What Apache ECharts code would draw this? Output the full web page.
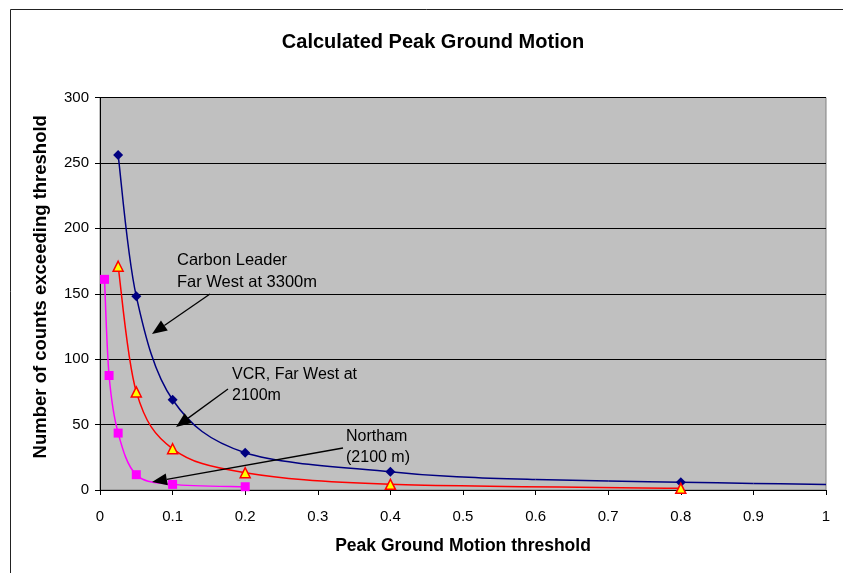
<!DOCTYPE html>
<html>
<head>
<meta charset="utf-8">
<script src="https://cdn.jsdelivr.net/npm/echarts@6/dist/echarts.min.js"></script>
<style>
html,body{margin:0;padding:0;background:#fff;}
#c{width:843px;height:573px;}
</style>
</head>
<body>
<div id="c"></div>
<script>
// Data
var carbonX = [0.025, 0.05, 0.1, 0.2, 0.4, 0.8];
var carbonY = [256, 148, 69, 28.5, 14, 6];
var carbonCurveX = [0.025, 0.05, 0.1, 0.2, 0.4, 0.5, 0.6, 0.7, 0.8, 0.9, 1.0];
var carbonCurveY = [256, 148, 69, 28.5, 14, 10, 8, 6.8, 6, 5, 4.2];
var vcrX = [0.025, 0.05, 0.1, 0.2, 0.4, 0.8];
var vcrY = [171, 75, 31.5, 13.2, 4.3, 1.3];
var northamX = [0.00625, 0.0125, 0.025, 0.05, 0.1, 0.2];
var northamY = [161, 87.5, 43.5, 11.7, 4.3, 2.5];
var yTicks = [0, 50, 100, 150, 200, 250, 300];
var xTicks = [0, 0.1, 0.2, 0.3, 0.4, 0.5, 0.6, 0.7, 0.8, 0.9, 1];

function pairs(xs, ys) { return xs.map(function (x, i) { return [x, ys[i]]; }); }

var FONT = '"Liberation Sans", Arial, sans-serif';
var chart = echarts.init(document.getElementById('c'), null, {renderer: 'canvas'});

// Smoothed curve (Catmull-Rom style bezier) drawn through points converted by the axes
function curveSeries(name, xs, ys, color) {
  return {
    type: 'custom', name: name, data: [0], z: 3, clip: true, silent: true,
    renderItem: function (params, api) {
      var p = xs.map(function (x, i) { return api.coord([x, ys[i]]); });
      var kids = [];
      for (var i = 0; i < p.length - 1; i++) {
        var p0 = p[Math.max(i - 1, 0)], p1 = p[i], p2 = p[i + 1], p3 = p[Math.min(i + 2, p.length - 1)];
        kids.push({
          type: 'bezierCurve',
          shape: {
            x1: p1[0], y1: p1[1], x2: p2[0], y2: p2[1],
            cpx1: p1[0] + (p2[0] - p0[0]) / 6, cpy1: p1[1] + (p2[1] - p0[1]) / 6,
            cpx2: p2[0] - (p3[0] - p1[0]) / 6, cpy2: p2[1] - (p3[1] - p1[1]) / 6
          },
          style: {stroke: color, lineWidth: 1.5, fill: null}
        });
      }
      return {type: 'group', children: kids};
    }
  };
}

function arrow(x1, y1, x2, y2) {
  var dx = x2 - x1, dy = y2 - y1, L = Math.sqrt(dx*dx + dy*dy);
  var ux = dx / L, uy = dy / L, hl = 15, hw = 6;
  var bx = x2 - ux*hl, by = y2 - uy*hl;
  return [
    {type: 'line', shape: {x1: x1, y1: y1, x2: bx, y2: by}, style: {stroke: '#000', lineWidth: 1.3}, z: 100},
    {type: 'polygon', shape: {points: [[x2, y2], [bx - uy*hw, by + ux*hw], [bx + uy*hw, by - ux*hw]]}, style: {fill: '#000'}, z: 100}
  ];
}
function label(x, y, t, size) {
  return {type: 'text', x: x, y: y, z: 100, style: {text: t, fill: '#000', font: (size || 16) + 'px ' + FONT, verticalAlign: 'middle', align: 'left'}};
}

var graphics = [
  {type: 'line', shape: {x1: 10.5, y1: 9.5, x2: 843, y2: 9.5}, style: {stroke: '#222', lineWidth: 1}},
  {type: 'line', shape: {x1: 10.5, y1: 9.5, x2: 10.5, y2: 573}, style: {stroke: '#222', lineWidth: 1}},
  {type: 'text', x: 433, y: 42, z: 100, style: {text: 'Calculated Peak Ground Motion', fill: '#000',
    font: 'bold 20px ' + FONT, align: 'center', verticalAlign: 'middle'}},
  label(177, 260, 'Carbon Leader', 16.5),
  label(177, 282, 'Far West at 3300m', 16.5),
  label(232, 374.5, 'VCR, Far West at'),
  label(232, 395.5, '2100m'),
  label(346, 436.5, 'Northam'),
  label(346, 457.5, '(2100 m)')
].concat(arrow(210, 294, 152, 334))
 .concat(arrow(228, 389, 176, 427))
 .concat(arrow(343, 448, 152, 482));

var option = {
  animation: false,
  backgroundColor: '#fff',
  grid: {
    left: 100, right: 17, top: 97.5, bottom: 83,
    show: true, backgroundColor: '#C0C0C0', borderColor: '#808080', borderWidth: 1
  },
  xAxis: {
    type: 'value', min: 0, max: 1, interval: 0.1,
    name: 'Peak Ground Motion threshold', nameLocation: 'middle', nameGap: 47,
    nameTextStyle: {fontFamily: FONT, fontWeight: 'bold', fontSize: 17.5, color: '#000'},
    axisLine: {show: true, lineStyle: {color: '#000', width: 1}},
    axisTick: {show: true, length: 5, lineStyle: {color: '#000'}},
    axisLabel: {fontFamily: FONT, fontSize: 15, color: '#000', margin: 19,
      formatter: function (v) { return String(Math.round(v * 10) / 10); }},
    splitLine: {show: false}
  },
  yAxis: {
    type: 'value', min: 0, max: 300, interval: 50,
    name: 'Number of counts exceeding threshold', nameLocation: 'middle', nameGap: 50,
    nameTextStyle: {fontFamily: FONT, fontWeight: 'bold', fontSize: 18.5, color: '#000', padding: [0, 0, 0, 14]},
    axisLine: {show: true, lineStyle: {color: '#000', width: 1}},
    axisTick: {show: true, length: 5, lineStyle: {color: '#000'}},
    axisLabel: {fontFamily: FONT, fontSize: 15, color: '#000', margin: 11},
    splitLine: {show: true, lineStyle: {color: '#000', width: 1}}
  },
  series: [
    curveSeries('Carbon Leader curve', carbonCurveX, carbonCurveY, '#000080'),
    curveSeries('VCR curve', vcrX, vcrY, '#FF0000'),
    curveSeries('Northam curve', northamX, northamY, '#FF00FF'),
    {type: 'scatter', name: 'Carbon Leader', data: pairs(carbonX, carbonY), symbol: 'diamond', symbolSize: 10,
      itemStyle: {color: '#000080', opacity: 1}, z: 5},
    {type: 'scatter', name: 'VCR', data: pairs(vcrX, vcrY), symbol: 'triangle', symbolSize: 10,
      itemStyle: {color: '#FFFF00', borderColor: '#FF0000', borderWidth: 1.5, opacity: 1}, z: 5},
    {type: 'scatter', name: 'Northam', data: pairs(northamX, northamY), symbol: 'rect', symbolSize: 9,
      itemStyle: {color: '#FF00FF', opacity: 1}, z: 5}
  ],
  graphic: graphics
};
chart.setOption(option);
</script>
</body>
</html>
